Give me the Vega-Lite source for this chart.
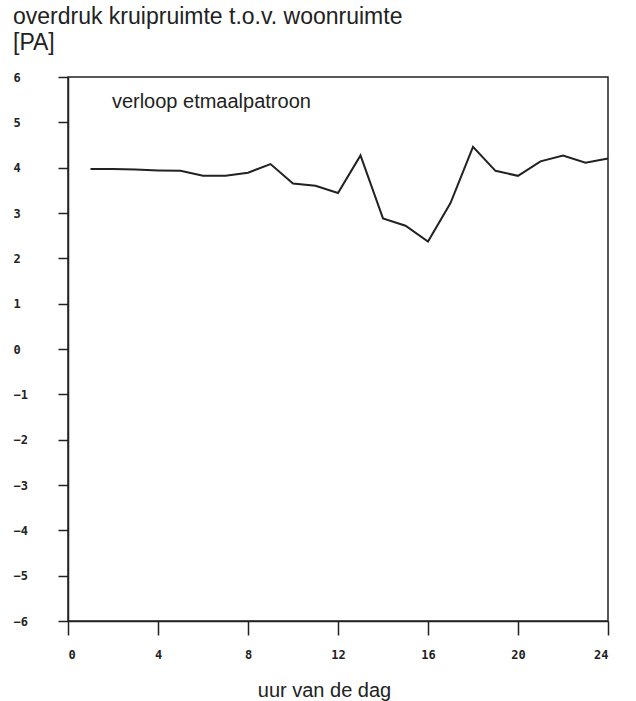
{
  "$schema": "https://vega.github.io/schema/vega-lite/v6.json",
  "width": 540,
  "height": 544,
  "autosize": "none",
  "padding": {"left": 68, "top": 77, "right": 28, "bottom": 80},
  "background": "white",
  "title": {
    "text": ["overdruk kruipruimte t.o.v. woonruimte", "[PA]"],
    "anchor": "start",
    "frame": "group",
    "dx": -55,
    "offset": 16,
    "font": "Liberation Sans",
    "fontSize": 23,
    "fontWeight": "normal",
    "color": "#222",
    "lineHeight": 26
  },
  "config": {
    "view": {"stroke": "#222", "strokeWidth": 1.5},
    "axis": {"grid": false, "domainColor": "#222", "tickColor": "#222", "domainWidth": 1.5, "tickWidth": 1.5, "labelColor": "#222"}
  },
  "datasets": {
    "series": [
      {"uur": 1, "pa": 3.97},
      {"uur": 2, "pa": 3.97},
      {"uur": 3, "pa": 3.96},
      {"uur": 4, "pa": 3.94},
      {"uur": 5, "pa": 3.93},
      {"uur": 6, "pa": 3.82},
      {"uur": 7, "pa": 3.82},
      {"uur": 8, "pa": 3.89},
      {"uur": 9, "pa": 4.08},
      {"uur": 10, "pa": 3.65},
      {"uur": 11, "pa": 3.6},
      {"uur": 12, "pa": 3.44},
      {"uur": 13, "pa": 4.27},
      {"uur": 14, "pa": 2.88},
      {"uur": 15, "pa": 2.72},
      {"uur": 16, "pa": 2.37},
      {"uur": 17, "pa": 3.22},
      {"uur": 18, "pa": 4.46},
      {"uur": 19, "pa": 3.93},
      {"uur": 20, "pa": 3.82},
      {"uur": 21, "pa": 4.14},
      {"uur": 22, "pa": 4.27},
      {"uur": 23, "pa": 4.11},
      {"uur": 24, "pa": 4.2}
    ],
    "label": [{"uur": 1.95, "pa": 5.32, "tekst": "verloop etmaalpatroon"}]
  },
  "layer": [
    {
      "data": {"name": "series"},
      "mark": {"type": "line", "color": "#222", "strokeWidth": 2},
      "encoding": {
        "x": {
          "field": "uur", "type": "quantitative",
          "scale": {"domain": [0, 24], "nice": false},
          "axis": {
            "values": [0, 4, 8, 12, 16, 20, 24],
            "title": "uur van de dag",
            "titleFont": "Liberation Sans",
            "titleFontSize": 20,
            "titleFontWeight": "normal",
            "titleColor": "#222",
            "titlePadding": 20,
            "titleX": 256,
            "tickSize": 14,
            "labelPadding": 14,
            "labelDx": 4,
            "labelFont": "DejaVu Sans Mono",
            "labelFontWeight": "bold",
            "labelFontSize": 12
          }
        },
        "y": {
          "field": "pa", "type": "quantitative",
          "scale": {"domain": [-6, 6], "nice": false},
          "axis": {
            "values": [-6, -5, -4, -3, -2, -1, 0, 1, 2, 3, 4, 5, 6],
            "title": null,
            "tickSize": 10,
            "labelAlign": "left",
            "labelPadding": 45,
            "labelDy": -2,
            "labelFont": "DejaVu Sans Mono",
            "labelFontWeight": "bold",
            "labelFontSize": 12
          }
        }
      }
    },
    {
      "data": {"name": "label"},
      "mark": {"type": "text", "align": "left", "baseline": "alphabetic", "font": "Liberation Sans", "fontSize": 20, "color": "#222"},
      "encoding": {
        "x": {"field": "uur", "type": "quantitative"},
        "y": {"field": "pa", "type": "quantitative"},
        "text": {"field": "tekst"}
      }
    }
  ]
}
